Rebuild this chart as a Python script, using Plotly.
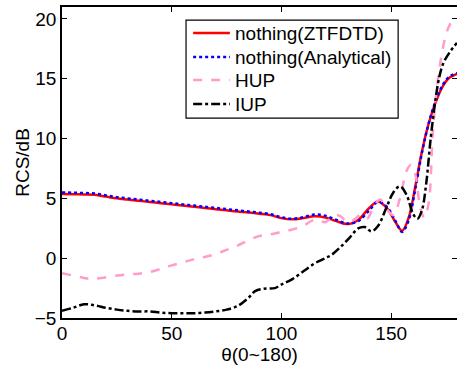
import plotly.graph_objects as go

theta_red = [0, 5, 10, 15, 20, 25, 30, 35, 40, 45, 50, 55, 60, 65, 70, 75, 80, 85, 90, 95, 100, 105, 110, 115, 120, 125, 130, 135, 140, 144, 148, 152, 155, 158, 161, 164, 167, 170, 173, 176, 180]
ztfdtd = [5.37, 5.35, 5.33, 5.3, 5.15, 5.0, 4.9, 4.8, 4.7, 4.6, 4.5, 4.4, 4.3, 4.2, 4.1, 4.0, 3.9, 3.82, 3.72, 3.6, 3.35, 3.25, 3.35, 3.5, 3.4, 3.1, 2.85, 3.2, 4.2, 4.75, 4.2, 3.0, 2.3, 3.4, 6.0, 8.9, 11.2, 12.9, 14.2, 15.0, 15.4]
analytical = [5.5, 5.47, 5.45, 5.4, 5.25, 5.1, 5.0, 4.9, 4.8, 4.7, 4.6, 4.5, 4.4, 4.3, 4.2, 4.1, 4.0, 3.9, 3.8, 3.68, 3.42, 3.3, 3.42, 3.65, 3.55, 3.2, 2.9, 3.1, 4.0, 4.7, 4.3, 3.1, 2.2, 3.2, 5.8, 8.8, 11.2, 13.0, 14.3, 15.1, 15.5]

theta_hup = [0, 5, 10, 13, 18, 25, 30, 35, 40, 45, 50, 55, 60, 65, 70, 75, 80, 85, 90, 95, 100, 105, 110, 114, 117, 120, 124, 127, 130, 133, 136, 139, 142, 145, 148, 151, 154, 157, 159, 161, 163, 165, 167, 169, 171, 173, 175, 177, 180]
hup = [-1.26, -1.45, -1.65, -1.74, -1.65, -1.45, -1.35, -1.3, -1.15, -0.9, -0.6, -0.35, -0.1, 0.1, 0.35, 0.7, 1.05, 1.5, 1.85, 2.0, 2.2, 2.4, 2.7, 3.14, 3.2, 3.0, 3.6, 3.5, 3.0, 3.2, 3.6, 3.3, 4.3, 4.9, 4.1, 3.6, 5.0, 7.3, 7.8, 7.0, 4.5, 3.4, 4.5, 10.5, 14.5, 17.0, 18.7, 19.6, 20.1]

theta_iup = [0, 5, 10, 15, 20, 25, 30, 35, 40, 45, 50, 55, 60, 65, 70, 75, 80, 85, 88, 92, 97, 100, 105, 110, 115, 120, 123, 127, 131, 135, 138, 141, 144, 148, 151, 154, 157, 160, 162, 164, 166, 168, 170, 172, 174, 177, 180]
iup = [-4.39, -4.15, -3.85, -3.95, -4.15, -4.3, -4.4, -4.45, -4.45, -4.55, -4.6, -4.6, -4.6, -4.55, -4.45, -4.3, -4.0, -3.3, -2.75, -2.55, -2.5, -2.2, -1.75, -1.1, -0.45, 0.0, 0.3, 0.95, 1.7, 2.5, 2.6, 2.25, 2.7, 4.3, 5.5, 6.0, 5.3, 3.7, 3.3, 4.0, 6.3, 10.0, 13.0, 15.2, 16.4, 17.3, 18.0]

series_names = ["nothing(ZTFDTD)", "nothing(Analytical)", "HUP", "IUP"]
series_colors = ["#ff0000", "#0000ff", "#ff9ccc", "#000000"]
series_dashes = ["solid", "dot", "dash", "dashdot"]

x_ticks = [0, 50, 100, 150]
y_ticks = [-5, 0, 5, 10, 15, 20]

FONT = "Liberation Sans, Arial, sans-serif"

fig = go.Figure()
for xs, ys, name, col, dash in zip([theta_red, theta_red, theta_hup, theta_iup],
                                    [ztfdtd, analytical, hup, iup],
                                    series_names, series_colors, series_dashes):
    fig.add_trace(go.Scatter(x=xs, y=ys, mode="lines", name=name, showlegend=False,
                             line=dict(color=col, width=2.5, dash=dash, shape="spline")))

# Manual legend (MATLAB-style box)
box_x0, box_x1, box_y0, box_y1 = 0.314, 0.851, 0.643, 0.958
fig.add_shape(type="rect", xref="paper", yref="paper", x0=box_x0, x1=box_x1, y0=box_y0, y1=box_y1,
              line=dict(color="black", width=1.2), fillcolor="white", layer="above")
row_y = [0.916, 0.839, 0.765, 0.688]
for ry, name, col, dash in zip(row_y, series_names, series_colors, series_dashes):
    fig.add_shape(type="line", xref="paper", yref="paper", x0=0.332, x1=0.425, y0=ry, y1=ry,
                  line=dict(color=col, width=2.5, dash=dash), layer="above")
    fig.add_annotation(xref="paper", yref="paper", x=0.432, y=ry, text=name, showarrow=False,
                       xanchor="left", yanchor="middle", font=dict(size=19, family=FONT, color="black"))

axis_common = dict(showline=True, linecolor="black", linewidth=1.5, mirror="ticks",
                   ticks="inside", ticklen=5, tickcolor="black", showgrid=False, zeroline=False,
                   automargin=False,
                   tickfont=dict(size=19, color="black", family=FONT))

fig.update_layout(
    width=457, height=370,
    margin=dict(l=62, r=0, t=7, b=52),
    paper_bgcolor="white", plot_bgcolor="white",
    font=dict(family=FONT, size=19, color="black"),
    xaxis=dict(range=[0, 180], tickvals=x_ticks, ticklabelstandoff=-3,
               title=dict(text="θ(0~180)", standoff=0, font=dict(size=19)), **axis_common),
    yaxis=dict(range=[-5, 21], tickvals=y_ticks,
               title=dict(text="RCS/dB", standoff=0, font=dict(size=19)), **axis_common),
    showlegend=False,
)

fig.write_html("out.html", config={"displayModeBar": False},
               post_script="document.body.style.margin='0';document.body.style.overflow='hidden';")
